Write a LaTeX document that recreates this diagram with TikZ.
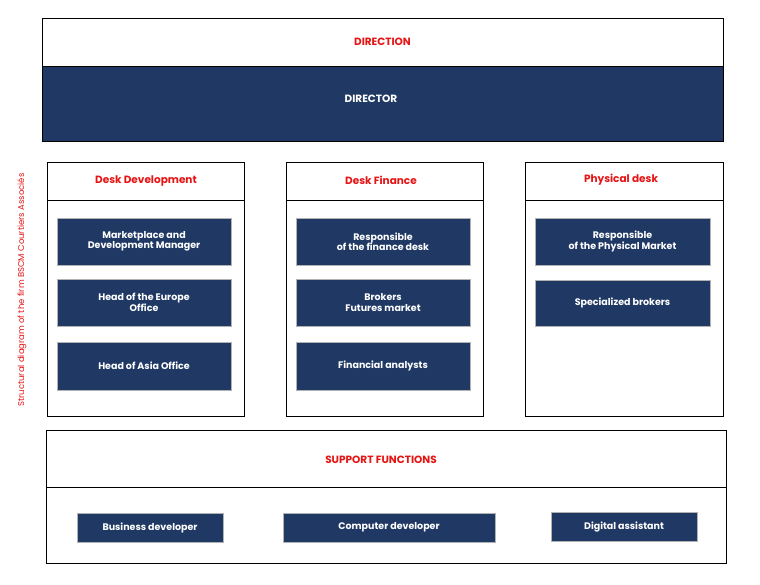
\documentclass[tikz,border=0pt]{standalone}
\usepackage{fontspec}
\setmainfont{Poppins}
\usetikzlibrary{positioning}
\definecolor{navycolor}{RGB}{31,56,100}
\definecolor{redcolor}{RGB}{230,20,20}

\begin{document}
\begin{tikzpicture}[
    x=1pt, y=-1pt,
    frame/.style={rectangle, draw=black, line width=0.6pt, fill=white, inner sep=0pt},
    post/.style={rectangle, draw=gray!60, fill=navycolor, text=white, font=\fontsize{9.5}{10.5}\selectfont\bfseries, align=center, inner sep=0pt},
    title/.style={text=redcolor, font=\fontsize{10.5}{12}\selectfont\bfseries}
]
\useasboundingbox (0,0) rectangle (760,584);

% Direction
\node[frame, minimum width=681pt, minimum height=48pt] (direction) at (382.5,42) {};
\node[title] at (direction) {DIRECTION};
\node[frame, fill=navycolor, minimum width=681pt, minimum height=75pt] (director) at (382.5,103.5) {};
\node[font=\fontsize{10.5}{12}\selectfont\bfseries, text=white] at (371,99) {DIRECTOR};

% Side label
\node[rotate=90, text=redcolor, font=\fontsize{8.5}{10}\selectfont] (caption) at (22,290) {Structural diagram of the firm BSCM Courtiers Associés};

% Desks
\node[frame, minimum width=197pt, minimum height=254pt] (devdesk) at (145.5,289) {};
\node[frame, minimum width=197pt, minimum height=254pt] (findesk) at (384.5,289) {};
\node[frame, minimum width=198pt, minimum height=254pt] (physdesk) at (624,289) {};
\draw (47,200) -- (244,200);
\draw (286,200) -- (483,200);
\draw (525,200) -- (723,200);
\node[title] (devtitle) at (146,181) {Desk Development};
\node[title] (fintitle) at (381,180) {Desk Finance};
\node[title] (phystitle) at (621,180) {Physical desk};

% Development posts
\node[post, minimum width=174pt, minimum height=47pt] (marketplace) at (144,241.5) {Marketplace and\\Development Manager};
\node[post, minimum width=174pt, minimum height=47pt] (europe) at (144,302.5) {Head of the Europe\\Office};
\node[post, minimum width=174pt, minimum height=48pt] (asia) at (144,366) {Head of Asia Office};

% Finance posts
\node[post, minimum width=174pt, minimum height=47pt] (respfin) at (383,241.5) {Responsible\\of the finance desk};
\node[post, minimum width=174pt, minimum height=47pt] (brokers) at (383,302.5) {Brokers\\Futures market};
\node[post, minimum width=174pt, minimum height=48pt] (analysts) at (383,366) {Financial analysts};

% Physical posts
\node[post, minimum width=175pt, minimum height=47pt] (respphys) at (622.5,241.5) {Responsible\\of the Physical Market};
\node[post, minimum width=175pt, minimum height=46pt] (specbrokers) at (622.5,303) {Specialized brokers};

% Support functions
\node[frame, minimum width=680pt, minimum height=133pt] (support) at (386,496.5) {};
\draw (46,487) -- (726,487);
\node[title] (supporttitle) at (381,460) {SUPPORT FUNCTIONS};
\node[post, minimum width=146pt, minimum height=29pt] (business) at (150,527.5) {Business developer};
\node[post, minimum width=212pt, minimum height=29pt] (computer) at (389,527.5) {Computer developer};
\node[post, minimum width=146pt, minimum height=29pt] (digital) at (624,526.5) {Digital assistant};
\end{tikzpicture}
\end{document}
